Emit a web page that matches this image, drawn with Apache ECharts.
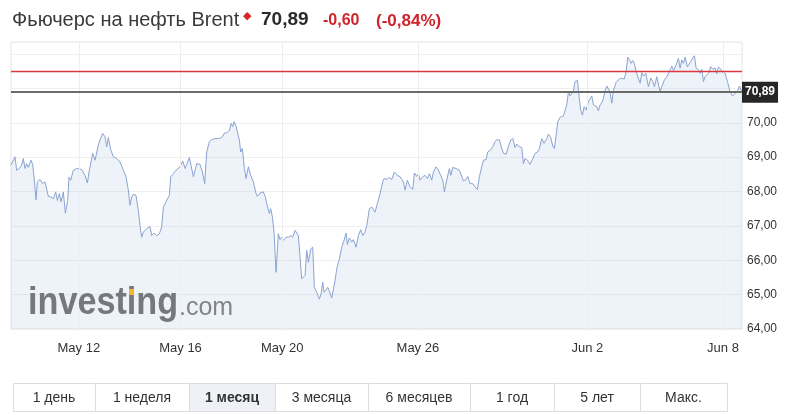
<!DOCTYPE html>
<html>
<head>
<meta charset="utf-8">
<script src="https://cdn.jsdelivr.net/npm/echarts@6/dist/echarts.min.js"></script>
<style>
html,body{margin:0;padding:0;background:#fff;}
#c{width:809px;height:415px;}
</style>
</head>
<body>
<div id="c"></div>
<script>
// Trading sessions (index = trading day since start of chart)
const days = ['May 10','May 11','May 12','May 13','May 14','May 16','May 18','May 19','May 20','May 21','May 24','May 25','May 26','May 27','May 28','May 31','Jun 1','Jun 2','Jun 3','Jun 4','Jun 7','Jun 8'];
const tickDays = ['May 12','May 16','May 20','May 26','Jun 2','Jun 8'];
const yTicks = [64,65,66,67,68,69,70];
const lastPrice = 70.89;
const prevClose = 71.49;
const change = '-0,60';
const changePct = '(-0,84%)';
const ranges = ['1 день','1 неделя','1 месяц','3 месяца','6 месяцев','1 год','5 лет','Макс.'];
const activeRange = '1 месяц';

// time in trading days
const times = [
0.000,0.118,0.167,0.246,0.315,0.364,0.413,0.462,0.511,0.590,0.639,0.688,0.737,0.777,0.855,0.934,1.003,1.052,1.101,1.170,
1.249,1.318,1.367,1.426,1.475,1.544,1.603,1.672,1.711,1.760,1.839,1.937,2.085,2.183,2.252,2.311,2.409,2.478,2.576,2.625,
2.704,2.773,2.822,2.871,2.940,3.019,3.117,3.215,3.294,3.392,3.461,3.510,3.560,3.609,3.687,3.756,3.805,3.854,3.904,4.002,
4.100,4.149,4.218,4.297,4.376,4.444,4.494,4.592,4.671,4.710,4.789,4.867,4.985,5.064,5.133,5.182,5.261,5.310,5.379,5.477,
5.575,5.644,5.713,5.772,5.851,5.919,6.018,6.116,6.214,6.283,6.362,6.441,6.490,6.539,6.578,6.637,6.686,6.735,6.775,6.824,
6.883,6.932,7.001,7.070,7.149,7.227,7.266,7.345,7.443,7.502,7.542,7.591,7.620,7.660,7.709,7.758,7.817,7.886,7.935,7.984,
8.033,8.112,8.181,8.250,8.309,8.378,8.427,8.476,8.525,8.574,8.623,8.673,8.722,8.771,8.840,8.899,8.948,9.017,9.095,9.145,
9.194,9.233,9.292,9.341,9.390,9.459,9.508,9.558,9.607,9.685,9.754,9.823,9.882,9.921,9.980,10.049,10.098,10.177,10.246,10.315,
10.374,10.442,10.492,10.570,10.639,10.737,10.806,10.885,10.963,11.003,11.082,11.160,11.229,11.308,11.396,
11.475,11.573,11.622,11.691,11.770,11.849,11.898,11.967,12.016,12.065,12.144,12.212,12.281,12.340,12.409,12.458,12.537,12.606,12.675,12.734,
12.783,12.852,12.930,12.970,13.029,13.127,13.225,13.294,13.343,13.422,13.471,13.540,13.619,13.687,13.756,13.815,13.884,13.933,14.012,14.061,
14.130,14.209,14.277,14.326,14.405,14.455,14.523,14.602,14.671,14.740,14.799,14.867,14.917,14.995,15.064,15.113,15.162,15.231,15.310,15.389,
15.457,15.526,15.585,15.654,15.723,15.801,15.851,15.919,15.978,16.027,16.077,16.126,16.195,16.293,16.342,16.391,16.441,16.490,16.539,16.588,
16.637,16.706,16.755,16.804,16.853,16.903,16.962,17.030,17.080,17.129,17.178,17.276,17.325,17.375,17.453,17.522,17.571,17.620,17.670,17.719,
17.768,17.847,17.915,17.984,18.083,18.142,18.191,18.240,18.289,18.338,18.387,18.456,18.506,18.555,18.604,18.653,18.722,18.800,18.869,18.928,
18.977,19.046,19.095,19.145,19.194,19.272,19.341,19.420,19.489,19.538,19.617,19.685,19.735,19.784,19.833,19.882,19.951,20.029,20.108,20.157,
20.206,20.275,20.324,20.374,20.423,20.472,20.570,20.639,20.698,20.767,20.816,20.865,20.934,20.993,21.062,21.130,21.209,21.278,21.357,21.426,
21.485,21.560
];
const prices = [
68.77,69.01,68.62,68.67,68.77,68.96,68.67,68.81,68.70,68.91,68.79,68.33,67.76,68.28,68.35,68.23,68.28,68.25,67.86,67.84,
67.79,67.99,67.74,67.94,67.70,67.99,67.37,67.74,68.42,68.33,68.62,68.67,68.64,68.47,68.25,68.62,69.11,68.91,69.35,69.50,
69.69,69.59,69.30,69.57,69.22,69.01,68.96,68.86,68.67,68.43,68.04,67.60,67.84,67.92,67.89,67.45,67.01,66.67,66.82,66.92,
66.98,66.72,66.79,66.72,66.77,66.97,67.55,67.74,67.89,68.43,68.52,68.62,68.72,68.89,68.67,68.79,68.99,68.76,68.43,68.81,
68.79,68.57,68.23,69.15,69.45,69.51,69.54,69.54,69.57,69.69,69.71,69.77,69.98,69.89,70.03,69.90,69.86,69.50,69.15,69.25,
68.67,68.38,68.72,68.47,68.28,67.94,67.86,67.96,67.99,67.84,67.65,67.60,67.36,67.50,67.26,66.82,65.65,66.77,66.60,66.67,
66.58,66.67,66.67,66.72,66.67,66.87,66.87,66.72,66.09,65.46,65.41,65.56,66.29,65.94,66.33,66.38,65.21,65.07,64.87,65.02,
65.36,65.07,65.14,65.21,65.10,64.90,64.87,65.41,65.75,66.04,66.38,66.58,66.79,66.46,66.65,66.53,66.60,66.38,66.72,66.89,
66.72,66.82,67.01,67.50,67.55,67.40,67.65,67.94,68.28,68.38,68.35,68.41,68.35,68.57,68.47,
68.43,68.28,68.04,68.33,68.13,68.06,68.54,68.44,68.52,68.33,68.43,68.47,68.38,68.52,68.33,68.57,68.72,68.62,68.47,68.33,
67.99,68.33,68.67,68.47,68.70,68.67,68.62,68.44,68.31,68.35,68.44,68.23,68.23,68.13,68.06,68.43,68.72,68.91,68.93,69.15,
69.20,69.30,69.45,69.51,69.50,69.32,69.11,69.09,69.32,69.50,69.54,69.28,69.38,69.30,69.28,68.81,68.96,68.91,68.79,68.96,
69.11,69.15,69.25,69.54,69.40,69.54,69.67,69.57,69.32,69.25,69.64,70.03,70.16,70.20,70.25,70.52,70.90,70.78,70.81,70.93,
71.20,71.23,70.76,70.37,70.22,70.47,70.37,70.61,70.61,70.78,70.52,70.47,70.35,70.52,70.64,70.93,71.07,71.05,70.90,70.57,
70.95,71.17,71.25,71.30,71.27,71.49,71.91,71.83,71.73,71.81,71.71,71.44,71.39,71.15,71.46,71.36,71.44,71.05,71.30,71.20,
71.05,71.34,71.39,70.90,71.05,71.25,71.34,71.49,71.65,71.52,71.68,71.88,71.59,71.83,71.73,71.91,71.63,71.75,71.88,71.95,
71.59,71.54,71.44,71.56,71.20,71.34,71.44,71.63,71.56,71.59,71.42,71.62,71.56,71.46,71.44,71.20,70.90,70.78,70.86,70.90,
71.07,70.89
];

const seriesData = times.map((t, i) => [t, prices[i]]);
const fmt = v => v.toFixed(2).replace('.', ',');
const FONT = '"Liberation Sans", Arial, sans-serif';
const RED = '#d9393c';

const chart = echarts.init(document.getElementById('c'), null, {renderer: 'canvas'});

// range buttons
const btnEdges = [13, 95, 189, 275, 368, 470, 554, 640, 727];
const btnTop = 383, btnH = 28;
const btnGraphics = [];
ranges.forEach((r, i) => {
  const x0 = btnEdges[i], x1 = btnEdges[i + 1];
  btnGraphics.push({
    type: 'rect', shape: {x: x0 + 0.5, y: btnTop + 0.5, width: x1 - x0, height: btnH},
    style: {fill: r === activeRange ? '#eef2f7' : '#fff', stroke: '#dcdcdc', lineWidth: 1}
  });
  btnGraphics.push({
    type: 'text', x: (x0 + x1) / 2, y: btnTop + btnH / 2 + 1,
    style: {text: r, fill: '#333', font: (r === activeRange ? 'bold ' : '') + '14px ' + FONT,
      textAlign: 'center', textVerticalAlign: 'middle'}
  });
});

const option = {
  animation: false,
  backgroundColor: '#fff',
  grid: {left: 11, right: 67, top: 42, bottom: 86, show: true, borderColor: '#e4e4e4', borderWidth: 1, backgroundColor: 'transparent'},
  xAxis: {
    type: 'value', min: 0, max: 21.56, interval: 1,
    axisLine: {show: false}, axisTick: {show: false},
    splitLine: {show: false},
    axisLabel: {
      color: '#333', fontSize: 13, margin: 13, fontFamily: FONT,
      showMinLabel: true, showMaxLabel: false,
      formatter: v => {
        if (Math.abs(v - Math.round(v)) > 1e-6) return '';
        const d = days[Math.round(v)];
        return tickDays.includes(d) ? d : '';
      }
    }
  },
  yAxis: {
    type: 'value', position: 'right', min: 64, max: 72.35, interval: 1,
    axisLine: {show: false}, axisTick: {show: false},
    splitLine: {show: true, lineStyle: {color: '#efefef', width: 1}},
    axisLabel: {
      color: '#333', fontSize: 12, margin: 5, fontFamily: FONT,
      showMaxLabel: false,
      formatter: v => yTicks.includes(Math.round(v * 100) / 100) ? fmt(v) : ''
    }
  },
  series: [
    {
      type: 'line', z: 1, data: [], silent: true,
      markLine: {
        silent: true, symbol: 'none', label: {show: false},
        lineStyle: {color: '#eeeeee', width: 1, type: 'solid'},
        data: tickDays.map(d => ({xAxis: days.indexOf(d)}))
      }
    },
    {
      type: 'line', z: 3,
      data: seriesData,
      showSymbol: false, symbol: 'none',
      lineStyle: {color: '#8aa4d0', width: 1},
      areaStyle: {color: 'rgba(180,200,228,0.33)'}
    },
    {
      type: 'line', z: 4, data: [], silent: true, color: RED,
      itemStyle: {color: RED}, lineStyle: {color: RED},
      markLine: {
        silent: true, symbol: 'none', label: {show: false},
        itemStyle: {color: RED},
        lineStyle: {color: RED, width: 1.3, type: 'solid', opacity: 1},
        data: [{yAxis: prevClose, lineStyle: {color: RED}, itemStyle: {color: RED}}]
      }
    },
    {
      type: 'line', z: 5, data: [], silent: true,
      markLine: {
        silent: true, symbol: 'none',
        lineStyle: {color: '#6b6b6b', width: 2, type: 'solid'},
        label: {show: true, position: 'end', distance: 0, formatter: fmt(lastPrice),
          backgroundColor: '#262626', color: '#fff', fontWeight: 'bold', fontSize: 12,
          fontFamily: FONT, padding: [5, 3, 4, 3]},
        data: [{yAxis: lastPrice}]
      }
    }
  ],
  graphic: [
    {type: 'text', x: 12, y: 20, style: {text: 'Фьючерс на нефть Brent', fill: '#3a3a3a',
      font: '20px ' + FONT, textVerticalAlign: 'middle'}},
    {type: 'text', x: 243, y: 16, style: {text: '\u25C6', fill: '#d9262c',
      font: '11px "DejaVu Sans", sans-serif', textVerticalAlign: 'middle'}},
    {type: 'text', x: 261, y: 20, style: {text: fmt(lastPrice), fill: '#2a2a2a',
      font: 'bold 19px ' + FONT, textVerticalAlign: 'middle'}},
    {type: 'text', x: 323, y: 21, style: {text: change, fill: '#d0232b',
      font: 'bold 16px ' + FONT, textVerticalAlign: 'middle'}},
    {type: 'text', x: 376, y: 21, style: {text: changePct, fill: '#d0232b',
      font: 'bold 17px ' + FONT, textVerticalAlign: 'middle'}},
    {type: 'text', x: 28, y: 323, scaleX: 0.9, z: 10, style: {text: 'investing', fill: '#77787c',
      font: 'bold 38px ' + FONT, textVerticalAlign: 'bottom'}},
    {type: 'rect', z: 11, shape: {x: 129, y: 289, width: 5, height: 6}, style: {fill: '#f2b53a'}},
    {type: 'text', x: 179, y: 321, z: 10, style: {text: '.com', fill: '#838488',
      font: '25px ' + FONT, textVerticalAlign: 'bottom'}}
  ].concat(btnGraphics)
};
chart.setOption(option);
</script>
</body>
</html>
